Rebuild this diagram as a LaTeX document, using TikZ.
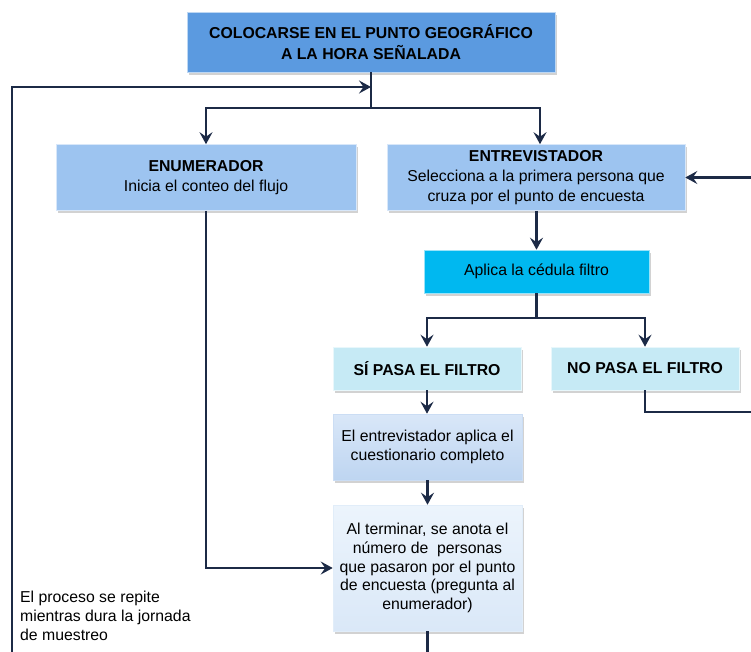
\documentclass[tikz,border=0pt]{standalone}
\usepackage{fontspec}
\setmainfont{Liberation Sans}
\usetikzlibrary{arrows.meta,shadows,calc}
\definecolor{topblue}{RGB}{91,154,224}
\definecolor{midblue}{RGB}{157,196,240}
\definecolor{cyanbox}{RGB}{0,184,240}
\definecolor{palecyan}{RGB}{198,234,245}
\definecolor{lineblue}{RGB}{28,42,70}
\definecolor{eatop}{RGB}{217,231,248}
\definecolor{eabot}{RGB}{190,213,241}
\definecolor{attop}{RGB}{236,244,252}
\definecolor{atbot}{RGB}{218,232,248}
\begin{document}
\begin{tikzpicture}[x=1pt,y=-1pt,
  font=\fontsize{15.8}{19.8}\selectfont,
  box/.style={draw=white!60!#1, line width=0.6pt, fill=#1, align=center, inner sep=2pt,
    drop shadow={opacity=0.35, shadow xshift=2pt, shadow yshift=-3pt}},
  gbox/.style 2 args={draw=#2!80!white, line width=0.6pt, top color=#1, bottom color=#2, align=center, inner sep=2pt,
    drop shadow={opacity=0.35, shadow xshift=2pt, shadow yshift=-3pt}},
  conn/.style={draw=lineblue, line width=2.8pt},
  arr/.style={conn, -{Stealth[length=12pt,width=13pt,inset=4.5pt]}}]
\useasboundingbox (0,0) rectangle (751,652);
\fill[white] (0,0) rectangle (751,652);

\node[box=topblue, minimum width=368pt, minimum height=60pt, font=\fontsize{15.8}{20.5}\selectfont\bfseries] (top) at (371,42)
  {COLOCARSE EN EL PUNTO GEOGRÁFICO\\A LA HORA SEÑALADA};
\node[box=midblue, minimum width=300pt, minimum height=66pt] (enum) at (206,177.5)
  {\textbf{ENUMERADOR}\\Inicia el conteo del flujo};
\node[box=midblue, minimum width=298pt, minimum height=66pt] (entr) at (536,177.5)
  {\textbf{ENTREVISTADOR}\\Selecciona a la primera persona que\\cruza por el punto de encuesta};
\node[box=cyanbox, minimum width=225pt, minimum height=43pt] (apl) at (536.5,271.5)
  {Aplica la cédula filtro};
\node[box=palecyan, minimum width=188pt, minimum height=43pt, font=\fontsize{15.8}{19.5}\selectfont\bfseries] (si) at (427,368.5)
  {SÍ PASA EL FILTRO};
\node[box=palecyan, minimum width=188pt, minimum height=43pt, font=\fontsize{15.8}{19.5}\selectfont\bfseries] (no) at (645,368.5)
  {NO PASA EL FILTRO};
\node[gbox={eatop}{eabot}, minimum width=189pt, minimum height=66pt] (ea) at (427.5,447)
  {El entrevistador aplica el\\cuestionario completo};
\node[gbox={attop}{atbot}, minimum width=189pt, minimum height=126pt, font=\fontsize{15.8}{18.9}\selectfont] (at) at (427.5,568)
  {Al terminar, se anota el\\número de\ \ personas\\que pasaron por el punto\\de encuesta (pregunta al\\enumerador)};

\node[anchor=north west, align=left, inner sep=0pt, font=\fontsize{15.8}{19}\selectfont] (note) at (20,591)
  {El proceso se repite\\mientras dura la jornada\\de muestreo};

\coordinate (j1) at (371,108);
\coordinate (loopbot) at (12,652);
\coordinate (rin) at (751,177.5);
\coordinate (j2) at (536.5,318);
\coordinate (noend) at (751,412);
\coordinate (atend) at (427.5,652);

\draw[conn] (top.south) -- (j1);
\draw[arr] (j1) -| (enum.north);
\draw[arr] (j1) -| (540,0 |- entr.north);
\draw[arr] (loopbot) |- (371,87);
\draw[arr] (rin) -- (entr.east);
\draw[arr] (entr.south -| apl.north) -- (apl.north);
\draw[conn] (apl.south) -- (j2);
\draw[arr] (j2) -| (si.north);
\draw[arr] (j2) -| (no.north);
\draw[conn] (no.south) |- (noend);
\draw[arr] (si.south) -- (si.south |- ea.north);
\draw[arr] (ea.south) -- (at.north);
\draw[conn] (at.south) -- (atend);
\draw[arr] (enum.south) |- (at.west);
\end{tikzpicture}
\end{document}
